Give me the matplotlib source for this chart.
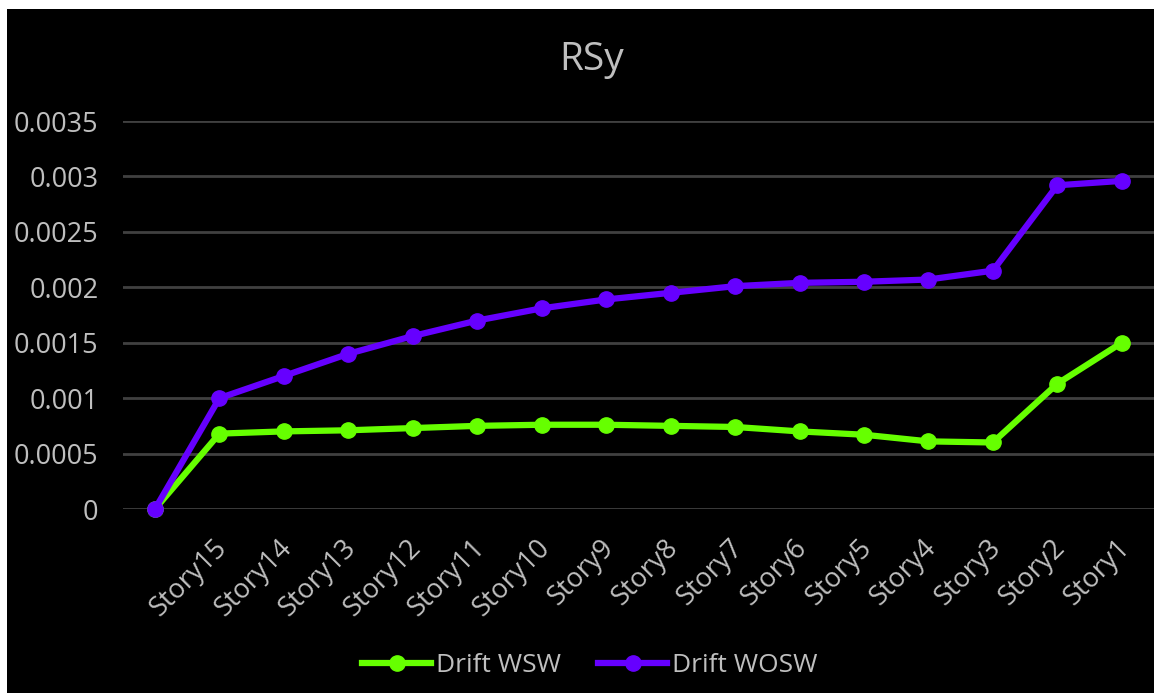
import matplotlib
matplotlib.use("Agg")
import matplotlib.pyplot as plt
from matplotlib.patches import Rectangle
from matplotlib.transforms import ScaledTranslation

# Dados (drift por pavimento)
stories = ["", "Story15", "Story14", "Story13", "Story12", "Story11", "Story10", "Story9",
           "Story8", "Story7", "Story6", "Story5", "Story4", "Story3", "Story2", "Story1"]
drift_wsw = [0.0, 0.00068, 0.00070, 0.00071, 0.00073, 0.00075, 0.00076, 0.00076,
             0.00075, 0.00074, 0.00070, 0.00067, 0.00061, 0.00060, 0.00113, 0.00150]
drift_wosw = [0.0, 0.00100, 0.00120, 0.00140, 0.00156, 0.00170, 0.00181, 0.00189,
              0.00195, 0.00201, 0.00204, 0.00205, 0.00207, 0.00215, 0.00292, 0.00296]
yticks = [0, 0.0005, 0.001, 0.0015, 0.002, 0.0025, 0.003, 0.0035]
ytick_labels = ["0", "0.0005", "0.001", "0.0015", "0.002", "0.0025", "0.003", "0.0035"]

txt = "#bfbfbf"
grid_c = "#404040"
plt.rcParams["font.family"] = ["Open Sans", "DejaVu Sans"]

W, H = 1154, 693
fig = plt.figure(figsize=(W / 100, H / 100), dpi=100, facecolor="white")
# fundo preto com borda branca em cima e a esquerda
fig.patches.append(Rectangle((7 / W, 0), 1 - 7 / W, 1 - 9 / H, transform=fig.transFigure,
                             facecolor="black", edgecolor="none", zorder=-5))

ax = fig.add_axes([122.75 / W, 1 - 509 / H, (W - 122.75) / W, (509 - 121) / H])
ax.set_facecolor("black")

x = list(range(len(stories)))
ax.plot(x, drift_wsw, color="#66ff00", lw=4.5, marker="o", ms=11, label="Drift WSW",
        clip_on=False, zorder=3)
ax.plot(x, drift_wosw, color="#6600ff", lw=4.5, marker="o", ms=11, label="Drift WOSW",
        clip_on=False, zorder=4)

ax.set_xlim(-0.5, len(stories) - 0.5)
ax.set_ylim(0, 0.0035)
ax.set_yticks(yticks)
ax.set_yticklabels(ytick_labels)
ax.set_xticks(x)
ax.set_xticklabels(stories, rotation=45, ha="right", rotation_mode="anchor")
ax.tick_params(axis="both", colors=txt, length=0)
ax.tick_params(axis="y", labelsize=19.5, pad=17.5)
ax.tick_params(axis="x", labelsize=19.5, pad=18)
# desloca um pouco os rotulos do eixo x para a esquerda
shift = ScaledTranslation(-6 / 100, 0, fig.dpi_scale_trans)
for lbl in ax.get_xticklabels():
    lbl.set_transform(lbl.get_transform() + shift)
for s in ax.spines.values():
    s.set_visible(False)
ax.grid(axis="y", color=grid_c, lw=2)
ax.set_axisbelow(True)

fig.text(592 / W, 1 - 60 / H, "RSy", color=txt, fontsize=28, ha="center", va="center")

leg = fig.legend(loc="center", bbox_to_anchor=(590 / W, 1 - 666 / H), ncol=2, frameon=False,
                 fontsize=19, handlelength=2.6, handletextpad=0.2, columnspacing=1.4,
                 labelcolor=txt)

fig.savefig("out.png", dpi=100, facecolor=fig.get_facecolor())
